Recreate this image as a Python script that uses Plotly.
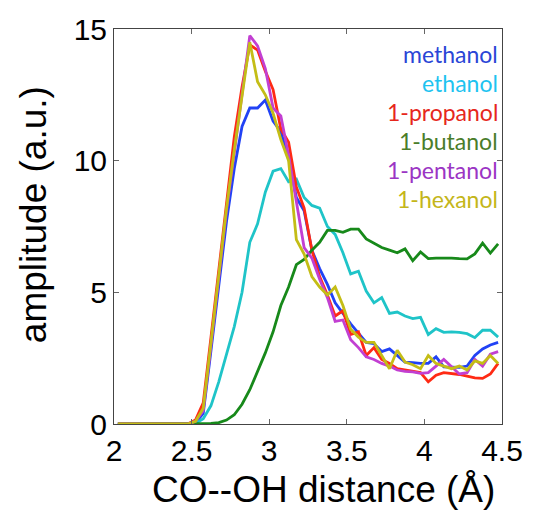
import plotly.graph_objects as go

# O--O distance grid (bin centres, Å)
distance = [round(2.025 + 0.05 * k, 3) for k in range(50)]

methanol = [0, 0, 0, 0, 0, 0, 0, 0, 0, 0,
            0.05, 0.4, 2.8, 5.2, 7.7, 9.7, 11.3, 12.0, 12.0, 12.3,
            11.5, 11.1, 10.1, 8.6, 8.1, 6.6, 5.9, 5.3, 4.6, 4.2,
            3.8, 3.45, 3.1, 3.05, 2.75, 2.85, 2.6, 2.35, 2.33, 2.3,
            2.3, 2.55, 2.17, 2.15, 2.15, 2.2, 2.6, 2.85, 3.0, 3.1]

ethanol = [0, 0, 0, 0, 0, 0, 0, 0, 0, 0,
           0.02, 0.2, 0.7, 1.6, 2.6, 3.7, 5.0, 6.9, 7.6, 8.8,
           9.6, 9.7, 9.2, 9.3, 8.6, 8.3, 8.2, 7.5, 7.2, 6.5,
           5.7, 5.8, 5.05, 4.6, 4.8, 4.2, 4.25, 4.1, 4.0, 4.05,
           3.4, 3.62, 3.48, 3.5, 3.48, 3.43, 3.28, 3.56, 3.56, 3.3]

propanol = [0, 0, 0, 0, 0, 0, 0, 0, 0, 0,
            0.15, 0.8, 3.3, 5.9, 8.5, 10.9, 12.8, 14.4, 14.2, 13.4,
            12.7, 11.2, 10.7, 9.0, 8.2, 6.6, 5.6, 4.9, 4.1, 4.3,
            3.4, 3.5, 2.6, 2.9, 2.45, 2.3, 2.1, 2.05, 2.0, 1.95,
            1.6, 1.85, 1.95, 1.92, 1.88, 1.82, 1.75, 1.73, 1.9, 2.3]

butanol = [0, 0, 0, 0, 0, 0, 0, 0, 0, 0,
           0, 0, 0.02, 0.05, 0.15, 0.35, 0.75, 1.3, 2.0, 2.7,
           3.5, 4.5, 5.2, 6.05, 6.25, 6.6, 6.9, 7.35, 7.35, 7.28,
           7.4, 7.4, 7.03, 6.85, 6.7, 6.6, 6.5, 6.65, 6.2, 6.53,
           6.28, 6.3, 6.31, 6.3, 6.28, 6.27, 6.46, 6.87, 6.49, 6.84]

pentanol = [0, 0, 0, 0, 0, 0, 0, 0, 0, 0,
            0.1, 0.5, 3.0, 5.5, 8.1, 10.3, 12.6, 14.75, 14.36, 13.5,
            12.0, 11.7, 10.2, 8.5, 6.7, 6.3, 5.5, 4.8, 3.9, 3.95,
            3.2, 2.9, 2.55, 2.45, 2.3, 2.2, 2.05, 2.0, 1.98, 1.92,
            1.95, 2.2, 2.45, 2.17, 1.9, 1.95, 2.45, 2.2, 2.65, 2.75]

hexanol = [0, 0, 0, 0, 0, 0, 0, 0, 0, 0,
           0.1, 0.6, 3.1, 5.6, 8.2, 10.4, 12.4, 14.5, 13.0, 12.5,
           11.8, 10.8, 10.0, 7.0, 6.45, 5.6, 5.2, 4.9, 5.2, 4.5,
           3.6, 3.3, 3.1, 3.1, 2.6, 2.1, 2.8, 2.35, 2.25, 2.1,
           2.6, 2.3, 2.2, 2.1, 2.2, 2.05, 2.4, 2.3, 2.6, 2.3]

labels = ["methanol", "ethanol", "1-propanol", "1-butanol", "1-pentanol", "1-hexanol"]
series = [methanol, ethanol, propanol, butanol, pentanol, hexanol]
line_colors = ["#2142f5", "#1fc4c8", "#ff2a14", "#17891a", "#c23fd2", "#c4bd16"]
text_colors = ["#2a45d6", "#1ec3f0", "#e6271c", "#4a7d2a", "#9b35c4", "#c4b61a"]

W, H = 535, 511
L, R, T, B = 114, 25, 28, 87
pw, ph = W - L - R, H - T - B


def px_to_paper(xp, yp):
    return (xp - L) / pw, (H - B - yp) / ph


fig = go.Figure()
for name, vals, col in zip(labels, series, line_colors):
    fig.add_trace(go.Scatter(x=distance, y=vals, mode="lines", name=name,
                             line=dict(color=col, width=2.8)))

# coloured series names stacked in the upper-right corner
for i, (name, col) in enumerate(zip(labels, text_colors)):
    fig.add_annotation(text=name, xref="paper", yref="paper",
                       x=0.994, y=0.937 - i * 0.0735,
                       xanchor="right", yanchor="middle", showarrow=False,
                       font=dict(family="Lato", size=23, color=col))

title_font = dict(family="Liberation Sans", size=37, color="black")
ytx, yty = px_to_paper(32, 214)
fig.add_annotation(text="amplitude (a.u.)", xref="paper", yref="paper",
                   x=ytx, y=yty, xanchor="center", yanchor="middle",
                   textangle=-90, showarrow=False, font=title_font)
xtx, xty = px_to_paper(328, 490)
fig.add_annotation(text="CO--OH distance (Å)", xref="paper", yref="paper",
                   x=xtx, y=xty, xanchor="center", yanchor="middle",
                   showarrow=False, font=title_font)

axis_common = dict(showgrid=False, zeroline=False, showline=True,
                   linecolor="#444444", linewidth=1, mirror="allticks",
                   ticks="inside", ticklen=5, tickcolor="#666666",
                   tickfont=dict(family="Liberation Sans", size=30, color="black"))

fig.update_xaxes(range=[2, 4.5], tickvals=[2, 2.5, 3, 3.5, 4, 4.5],
                 ticktext=["2", "2.5", "3", "3.5", "4", "4.5"], **axis_common)
fig.update_yaxes(range=[0, 15], tickvals=[0, 5, 10, 15],
                 ticktext=["0", "5", "10", "15"], **axis_common)

fig.update_layout(width=W, height=H, showlegend=False,
                  margin=dict(l=L, r=R, t=T, b=B),
                  paper_bgcolor="white", plot_bgcolor="white")

fig.write_html("out.html")
